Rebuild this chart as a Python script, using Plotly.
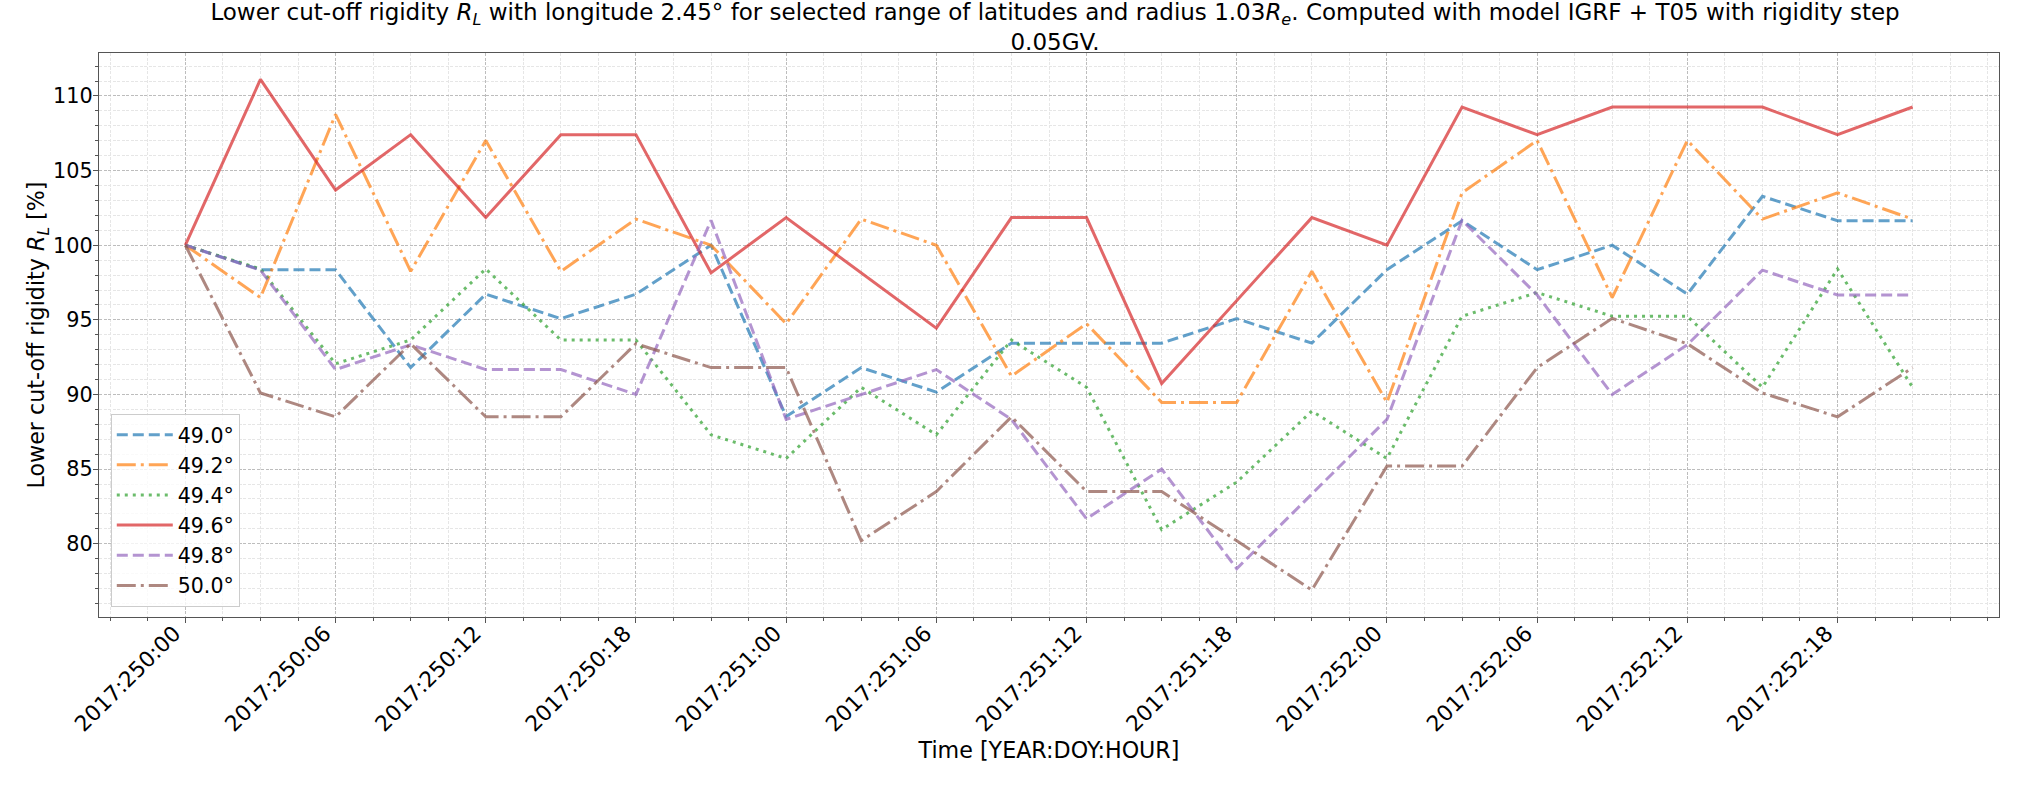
import plotly.graph_objects as go

# ---- data -------------------------------------------------------------
times = [
    "2017:250:00", "2017:250:03", "2017:250:06", "2017:250:09",
    "2017:250:12", "2017:250:15", "2017:250:18", "2017:250:21",
    "2017:251:00", "2017:251:03", "2017:251:06", "2017:251:09",
    "2017:251:12", "2017:251:15", "2017:251:18", "2017:251:21",
    "2017:252:00", "2017:252:03", "2017:252:06", "2017:252:09",
    "2017:252:12", "2017:252:15", "2017:252:18", "2017:252:21",
]

tick_labels = [
    "2017:250:00", "2017:250:06", "2017:250:12", "2017:250:18",
    "2017:251:00", "2017:251:06", "2017:251:12", "2017:251:18",
    "2017:252:00", "2017:252:06", "2017:252:12", "2017:252:18",
]

series_names = ["49.0°", "49.2°", "49.4°", "49.6°", "49.8°", "50.0°"]

lat_49_0 = [100, 98.36, 98.36, 91.80, 96.72, 95.08, 96.72, 100, 88.52, 91.80,
            90.16, 93.44, 93.44, 93.44, 95.08, 93.44, 98.36, 101.64, 98.36, 100,
            96.72, 103.28, 101.64, 101.64]
lat_49_2 = [100, 96.49, 108.77, 98.25, 107.02, 98.25, 101.75, 100, 94.74, 101.75,
            100, 91.23, 94.74, 89.47, 89.47, 98.25, 89.47, 103.51, 107.02, 96.49,
            107.02, 101.75, 103.51, 101.75]
lat_49_4 = [100, 98.41, 92.06, 93.65, 98.41, 93.65, 93.65, 87.30, 85.71, 90.48,
            87.30, 93.65, 90.48, 80.95, 84.13, 88.89, 85.71, 95.24, 96.83, 95.24,
            95.24, 90.48, 98.41, 90.48]
lat_49_6 = [100, 111.11, 103.70, 107.41, 101.85, 107.41, 107.41, 98.15, 101.85, 98.15,
            94.44, 101.85, 101.85, 90.74, 96.30, 101.85, 100, 109.26, 107.41, 109.26,
            109.26, 109.26, 107.41, 109.26]
lat_49_8 = [100, 98.33, 91.67, 93.33, 91.67, 91.67, 90.00, 101.67, 88.33, 90.00,
            91.67, 88.33, 81.67, 85.00, 78.33, 83.33, 88.33, 101.67, 96.67, 90.00,
            93.33, 98.33, 96.67, 96.67]
lat_50_0 = [100, 90.10, 88.50, 93.40, 88.50, 88.50, 93.40, 91.80, 91.80, 80.20,
            83.50, 88.50, 83.50, 83.50, 80.20, 76.90, 85.20, 85.20, 91.80, 95.10,
            93.40, 90.10, 88.50, 91.80]

all_series = [lat_49_0, lat_49_2, lat_49_4, lat_49_6, lat_49_8, lat_50_0]

# ---- styles -----------------------------------------------------------
colors = [
    "rgba(31,119,180,0.7)", "rgba(255,127,14,0.7)", "rgba(44,160,44,0.7)",
    "rgba(214,39,40,0.7)", "rgba(148,103,189,0.7)", "rgba(140,86,75,0.7)",
]
dashes = ["11px,5px", "19px,5px,3px,5px", "3px,5px", "solid",
          "11px,5px", "19px,5px,3px,5px"]


def to_hours(label):
    _, doy, hour = label.split(":")
    return (int(doy) - 250) * 24 + int(hour)


x_hours = [to_hours(t) for t in times]
tick_vals = [to_hours(t) for t in tick_labels]

FONT = "DejaVu Sans"

fig = go.Figure()
for name, ys, col, dsh in zip(series_names, all_series, colors, dashes):
    fig.add_trace(go.Scatter(
        x=x_hours, y=ys, mode="lines", name=name, legendgroup=name,
        line=dict(color=col, width=3, dash=dsh),
    ))

axis_common = dict(
    showline=True, mirror=True, linecolor="#555555", linewidth=1.2,
    ticks="outside", ticklen=5, tickcolor="#555555", tickwidth=1,
    showgrid=True, gridcolor="#bdbdbd", gridwidth=0.8, griddash="3px,1.5px",
    zeroline=False,
)

minor_common = dict(showgrid=True, gridcolor="#e6e6e6", gridwidth=0.6,
                    griddash="3px,1.5px", ticks="outside", ticklen=3,
                    tickcolor="#555555")

fig.update_layout(
    width=2034, height=785,
    margin=dict(l=99, r=35, t=53, b=168),
    paper_bgcolor="white", plot_bgcolor="white",
    font=dict(family=FONT, color="black"),
    title=dict(
        text=("Lower cut-off rigidity <i>R</i><sub><i>L</i></sub> with longitude 2.45° "
              "for selected range of latitudes and radius 1.03<i>R</i><sub><i>e</i></sub>. "
              "Computed with model IGRF + T05 with rigidity step<br>0.05GV."),
        x=0.5187, xanchor="center", y=0.974, yanchor="top", yref="container",
        font=dict(family=FONT, size=23, color="black"),
    ),
    xaxis=dict(
        axis_common,
        tickfont=dict(family=FONT, size=21.7, color="black"),
        range=[-3.45, 72.45],
        tickmode="array", tickvals=tick_vals, ticktext=tick_labels,
        tickangle=-45, ticklabelshift=-11, ticklabelstandoff=-11,
        minor=dict(minor_common, dtick=1.5, tick0=0),
        title=dict(text="Time [YEAR:DOY:HOUR]", standoff=0,
                   font=dict(family=FONT, size=22.2, color="black")),
    ),
    yaxis=dict(
        axis_common,
        tickfont=dict(family=FONT, size=20.8, color="black"),
        ticklabelstandoff=-4,
        range=[75.09, 112.88],
        dtick=5, tick0=0,
        minor=dict(minor_common, dtick=1),
        title=dict(text="Lower cut-off rigidity <i>R</i><sub><i>L</i></sub> [%]",
                   standoff=0,
                   font=dict(family=FONT, size=22.2, color="black")),
    ),
    legend=dict(
        x=0.0062, y=0.018, xanchor="left", yanchor="bottom",
        bgcolor="rgba(255,255,255,0.8)", bordercolor="#cccccc", borderwidth=1,
        font=dict(family=FONT, size=20.5, color="black"),
        itemwidth=56, tracegroupgap=0.5, traceorder="grouped",
    ),
    showlegend=True,
)

fig.write_html(
    "out.html",
    config={"displayModeBar": False},
    post_script="document.body.style.margin='0px';document.body.style.padding='0px';",
)
